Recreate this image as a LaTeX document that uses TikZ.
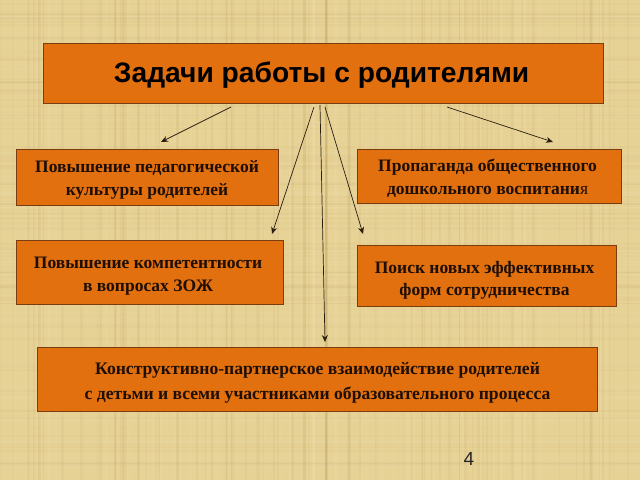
\documentclass[tikz,border=0pt]{standalone}
\usepackage{fontspec}
\setmainfont{Liberation Serif}
\newfontfamily\headfont{Liberation Sans}
\usetikzlibrary{arrows.meta}
% lower (#2) and move left (#1) the text of a box without changing the box
\newcommand{\placed}[3]{\hspace*{-#1pt}\raisebox{-#2pt}[\height][\depth]{\begin{tabular}{@{}c@{}}#3\end{tabular}}}
\tikzset{
  x=1pt,y=-1pt,
  box/.style={draw=boxedge,line width=1.1pt,fill=boxfill,inner sep=0pt,align=center,anchor=north west,text=textdark,font=\bfseries\fontsize{17.5}{22.5}\selectfont},
  widebox/.style={box,font=\bfseries\fontsize{17.6}{25}\selectfont},
  link/.style={draw=linedark,line width=0.7pt,-{Stealth[length=7pt,width=6pt]}},
  weft/.style={opacity=0.09}
}
\definecolor{paper}{HTML}{E7D296}
\definecolor{boxfill}{HTML}{E2700F}
\definecolor{boxedge}{HTML}{7A3D12}
\definecolor{textdark}{HTML}{1E0E04}
\definecolor{linedark}{HTML}{2A1E10}
\definecolor{weavedark}{HTML}{B0904E}
\definecolor{weavelight}{HTML}{F6E8C0}
\begin{document}
\begin{tikzpicture}
\useasboundingbox (0,0) rectangle (640,480);
\fill[paper] (0,0) rectangle (640,480);
\pgfmathsetseed{41}
\foreach \i in {1,...,90}{
  \pgfmathsetmacro{\px}{rnd*640}
  \pgfmathsetmacro{\py}{rnd*480}
  \pgfmathsetmacro{\lw}{0.6+rnd*2.2}
  \draw[weft,weavedark,line width=\lw pt] (\px,0) -- (\px,480);
  \draw[weft,weavelight,line width=\lw pt] (640-\px,0) -- (640-\px,480);
  \draw[weft,weavedark,line width=\lw pt,opacity=0.05] (0,\py) -- (640,\py);
  \draw[weft,weavelight,line width=\lw pt,opacity=0.05] (0,480-\py) -- (640,480-\py);
}
\node[box,minimum width=560pt,minimum height=60pt,font=\headfont\bfseries\fontsize{28.2}{32}\selectfont,text=black] (top) at (43,43) {\placed{4}{3}{Задачи работы с родителями}};
\node[box,minimum width=262pt,minimum height=56pt] (pedag) at (16,149) {\placed{1}{2}{Повышение педагогической\\культуры родителей}};
\node[box,minimum width=267pt,minimum height=64pt] (zoj) at (16,240) {\placed{4}{3}{Повышение компетентности\\в вопросах ЗОЖ}};
\node[box,minimum width=264pt,minimum height=54pt] (prop) at (357,149) {\placed{4}{2}{Пропаганда общественного\\дошкольного воспитани{\mdseries я}}};
\node[box,minimum width=259pt,minimum height=61pt] (poisk) at (357,245) {\placed{5}{4}{Поиск новых эффективных\\форм сотрудничества}};
\node[widebox,minimum width=560pt,minimum height=64pt] (partner) at (37,347) {\placed{0}{2}{Конструктивно-партнерское взаимодействие родителей\\с детьми и всеми участниками образовательного процесса}};
\node[anchor=center,font=\headfont\fontsize{19}{22}\selectfont,text=black!85] (pagenum) at (469,459) {4};
\coordinate (s1) at (231,107);
\coordinate (s2) at (314,107);
\coordinate (s3) at (320,105);
\coordinate (s4) at (325,107);
\coordinate (s5) at (447,107);
\coordinate (e1) at (161,142);
\coordinate (e2) at (272,234);
\coordinate (e3) at (325,342);
\coordinate (e4) at (363,234);
\coordinate (e5) at (553,142);
\draw[link] (s1) -- (e1);
\draw[link] (s2) -- (e2);
\draw[link] (s3) -- (e3);
\draw[link] (s4) -- (e4);
\draw[link] (s5) -- (e5);
\end{tikzpicture}
\end{document}
